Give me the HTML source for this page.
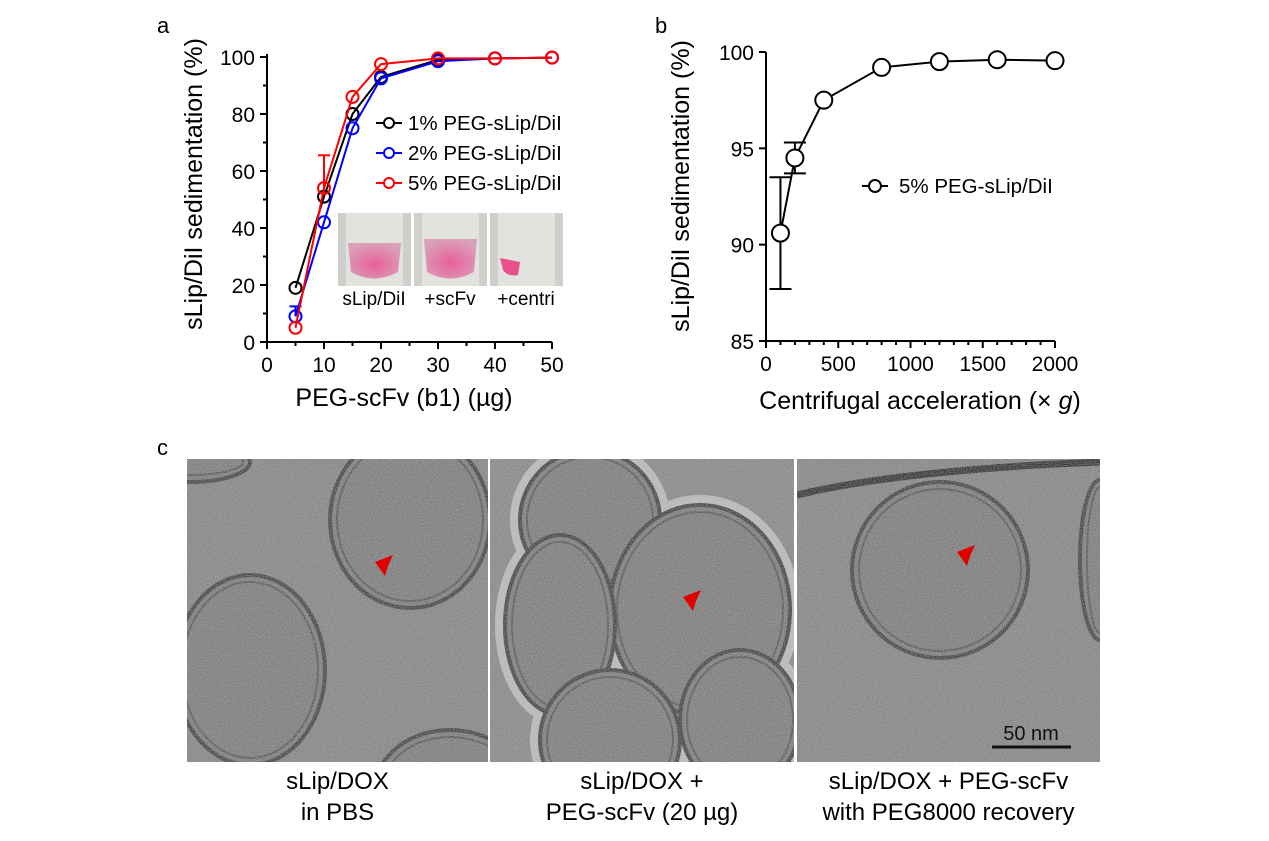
<!DOCTYPE html>
<html><head><meta charset="utf-8"><style>
body{margin:0;background:#fff;width:1269px;height:836px;overflow:hidden;font-family:"Liberation Sans",Arial,sans-serif}
svg text{font-family:"Liberation Sans",Arial,sans-serif}
</style></head><body>
<svg id="fig" width="1269" height="836" viewBox="0 0 1269 836">
<defs>
<filter id="noise" x="0" y="0" width="100%" height="100%">
<feTurbulence type="fractalNoise" baseFrequency="0.9" numOctaves="2" seed="3" result="t"/>
<feColorMatrix in="t" type="matrix" values="0 0 0 0 0.5  0 0 0 0 0.5  0 0 0 0 0.5  0 0 0 1.2 -0.35"/>
</filter>
<radialGradient id="pk" cx="50%" cy="60%" r="60%"><stop offset="0" stop-color="#e8609a"/><stop offset="1" stop-color="#d9a0b8"/></radialGradient>
</defs>
<g id="chartA"></g>
<g id="chartB"></g>
<g id="tem"></g>
</svg>
<script>
const NS='http://www.w3.org/2000/svg';
function mk(p,tag,at,txt){const e=document.createElementNS(NS,tag);for(const k in at)e.setAttribute(k,at[k]);if(txt!==undefined)e.textContent=txt;p.appendChild(e);return e;}

// ---- Chart a data ----
const aX=[5,10,15,20,30,40,50];
const a1=[19,51,80,93,99,99.5,99.8];
const a2=[9,42,75,92.5,98.5,99.5,99.8];
const a5=[5,54,86,97.5,99.5,99.5,99.8];
const a5err=[0,11.5,0,0,0,0,0];
const a2err=[3.5,0,0,0,0,0,0];
const aXTicks=[0,10,20,30,40,50];
const aYTicks=[0,20,40,60,80,100];
// ---- Chart b data ----
const bX=[100,200,400,800,1200,1600,2000];
const bY=[90.6,94.5,97.5,99.2,99.5,99.6,99.55];
const bErr=[2.9,0.8,0,0,0,0,0];
const bXTicks=[0,500,1000,1500,2000];
const bYTicks=[85,90,95,100];

const TF=21, TITLE=25;
// Chart a
(function(){
const g=document.getElementById('chartA');
const x0=267,x1=552,y0=342,y1=57;
const sx=v=>x0+(v-0)/(50-0)*(x1-x0), sy=v=>y0-(v-0)/100*(y0-y1);
const lbl=mk(g,'text',{x:157,y:33,'font-size':22});lbl.textContent='a';
mk(g,'line',{x1:x0,y1:y0,x2:x0,y2:y1-3,stroke:'#000','stroke-width':2});
mk(g,'line',{x1:x0,y1:y0,x2:x1,y2:y0,stroke:'#000','stroke-width':2});
for(let v=0;v<=100;v+=10){mk(g,'line',{x1:x0-(v%20?4:7),y1:sy(v),x2:x0,y2:sy(v),stroke:'#000','stroke-width':2});}
for(let v=0;v<=50;v+=5){mk(g,'line',{x1:sx(v),y1:y0,x2:sx(v),y2:y0+(v%10?4:7),stroke:'#000','stroke-width':2});}
aYTicks.forEach(v=>{const t=mk(g,'text',{x:x0-12,y:sy(v)+8,'font-size':TF,'text-anchor':'end'},v);});
aXTicks.forEach(v=>{const t=mk(g,'text',{x:sx(v),y:y0+30,'font-size':TF,'text-anchor':'middle'},v);});
const xt=mk(g,'text',{x:404,y:406,'font-size':TITLE,'text-anchor':'middle'},'PEG-scFv (b1) (µg)');
const yt=mk(g,'text',{x:0,y:0,'font-size':TITLE,'text-anchor':'middle',transform:'translate(202,184) rotate(-90)'},'sLip/DiI sedimentation (%)');
// inset photos
const px=[338,414,490],pl=['sLip/DiI','+scFv','+centri'];
px.forEach((x,i)=>{
 const pg=mk(g,'g',{});
 mk(pg,'rect',{x:x,y:213,width:73,height:73,fill:'#cfcfcc'});
 mk(pg,'rect',{x:x+8,y:213,width:57,height:73,fill:'#e2e2df'});
 if(i<2) mk(pg,'path',{d:`M${x+10} ${i?239:243} L${x+63} ${i?239:243} L${x+60} 272 Q${x+36} 285 ${x+13} 272 Z`,fill:'url(#pk)'});
 else mk(pg,'path',{d:`M${x+10} 258 L${x+30} 262 L${x+28} 275 Q${x+18} 277 ${x+13} 270 Z`,fill:'#e8508e'});
 const t=mk(g,'text',{x:x+36,y:305,'font-size':19,'text-anchor':'middle'},pl[i]);
});
const series=[[a1,'#000',null],[a2,'#0000ff',a2err],[a5,'#ff0000',a5err]];
series.forEach(([ys,c,er],si)=>{
 const sg=mk(g,'g',{});
 if(er) er.forEach((e,i)=>{if(e>0){mk(sg,'line',{x1:sx(aX[i]),y1:sy(ys[i]),x2:sx(aX[i]),y2:sy(ys[i]+e),stroke:c,'stroke-width':2});mk(sg,'line',{x1:sx(aX[i])-6,y1:sy(ys[i]+e),x2:sx(aX[i])+6,y2:sy(ys[i]+e),stroke:c,'stroke-width':2});}});
 mk(sg,'polyline',{points:aX.map((x,i)=>sx(x)+','+sy(ys[i])).join(' '),fill:'none',stroke:c,'stroke-width':2});
 aX.forEach((x,i)=>{const m=mk(sg,'circle',{cx:sx(x),cy:sy(ys[i]),r:6,fill:'none',stroke:c,'stroke-width':2});});
});
['1% PEG-sLip/DiI','2% PEG-sLip/DiI','5% PEG-sLip/DiI'].forEach((s,i)=>{
 const c=['#000','#0000ff','#ff0000'][i],y=123+i*30;
 const lg=mk(g,'g',{});
 mk(lg,'line',{x1:376,y1:y,x2:402,y2:y,stroke:c,'stroke-width':2});
 mk(lg,'circle',{cx:389,cy:y,r:5,fill:'#fff',stroke:c,'stroke-width':2});
 mk(lg,'text',{x:408,y:y+7,'font-size':20.5},s);
});
})();

// Chart b
(function(){
const g=document.getElementById('chartB');
const x0=766,x1=1055,y0=341,y1=52;
const sx=v=>x0+v/2000*(x1-x0), sy=v=>y0-(v-85)/15*(y0-y1);
const lbl=mk(g,'text',{x:655,y:33,'font-size':22},'b');
mk(g,'line',{x1:x0,y1:y0,x2:x0,y2:y1,stroke:'#000','stroke-width':2});
mk(g,'line',{x1:x0,y1:y0,x2:x1,y2:y0,stroke:'#000','stroke-width':2});
bYTicks.forEach(v=>{mk(g,'line',{x1:x0-7,y1:sy(v),x2:x0,y2:sy(v),stroke:'#000','stroke-width':2});const t=mk(g,'text',{x:x0-12,y:sy(v)+8,'font-size':TF,'text-anchor':'end'},v);});
for(let v=0;v<=2000;v+=100){mk(g,'line',{x1:sx(v),y1:y0,x2:sx(v),y2:y0+(v%500?4:7),stroke:'#000','stroke-width':2});}
bXTicks.forEach(v=>{const t=mk(g,'text',{x:sx(v),y:y0+30,'font-size':TF,'text-anchor':'middle'},v);});
const xt=mk(g,'text',{x:920,y:409,'font-size':TITLE,'text-anchor':'middle'});xt.innerHTML='Centrifugal acceleration (× <tspan font-style="italic">g</tspan>)';
const yt=mk(g,'text',{x:0,y:0,'font-size':TITLE,'text-anchor':'middle',transform:'translate(689,186) rotate(-90)'},'sLip/DiI sedimentation (%)');
bErr.forEach((e,i)=>{if(e>0){const X=sx(bX[i]);mk(g,'line',{x1:X,y1:sy(bY[i]-e),x2:X,y2:sy(bY[i]+e),stroke:'#000','stroke-width':2});[bY[i]-e,bY[i]+e].forEach(v=>mk(g,'line',{x1:X-11,y1:sy(v),x2:X+11,y2:sy(v),stroke:'#000','stroke-width':2}));}});
mk(g,'polyline',{points:bX.map((x,i)=>sx(x)+','+sy(bY[i])).join(' '),fill:'none',stroke:'#000','stroke-width':2});
bX.forEach((x,i)=>{const m=mk(g,'circle',{cx:sx(x),cy:sy(bY[i]),r:8.5,fill:'#fff',stroke:'#000','stroke-width':2});});
const lg=mk(g,'g',{});
mk(lg,'line',{x1:862,y1:186,x2:888,y2:186,stroke:'#000','stroke-width':2});
mk(lg,'circle',{cx:875,cy:186,r:6,fill:'#fff',stroke:'#000','stroke-width':2});
mk(lg,'text',{x:899,y:193,'font-size':20.5},'5% PEG-sLip/DiI');
})();

// TEM panels
(function(){
const g=document.getElementById('tem');
const lbl=mk(g,'text',{x:157,y:455,'font-size':22},'c');
const panels=[[187,301],[490,304],[797,303]];
const circles=[
 [[410,520,80,88],[250,670,75,95],[450,790,75,60],[190,462,60,20]],
 [[590,520,70,70],[700,610,90,105],[560,625,55,90],[610,740,70,70],[740,720,60,70]],
 [[940,570,88,88],[1100,560,20,80]]
];
const arrows=[[385,565],[693,600],[967,555]];
const caps=[['sLip/DOX','in PBS'],['sLip/DOX +','PEG-scFv (20 µg)'],['sLip/DOX + PEG-scFv','with PEG8000 recovery']];
panels.forEach(([x,w],i)=>{
 const pg=mk(g,'g',{});
 const cid='cp'+i;const cp=mk(pg,'clipPath',{id:cid});mk(cp,'rect',{x:x,y:459,width:w,height:303});
 const inner=mk(pg,'g',{'clip-path':`url(#${cid})`});
 mk(inner,'rect',{x:x,y:459,width:w,height:303,fill:i==1?'#888':'#858585'});
 if(i==1) circles[i].forEach(c=>mk(inner,'ellipse',{cx:c[0],cy:c[1],rx:c[2]+6,ry:c[3]+6,fill:'none',stroke:'#bdbdbd','stroke-width':8}));
 circles[i].forEach(c=>{mk(inner,'ellipse',{cx:c[0],cy:c[1],rx:c[2],ry:c[3],fill:'#7c7c7c',stroke:'#444','stroke-width':4});mk(inner,'ellipse',{cx:c[0],cy:c[1],rx:c[2]-7,ry:c[3]-7,fill:'none',stroke:'#5a5a5a','stroke-width':2});});
 if(i==2) mk(inner,'path',{d:'M797 495 Q900 470 1100 462',stroke:'#333','stroke-width':7,fill:'none'});
 mk(inner,'rect',{x:x,y:459,width:w,height:303,filter:'url(#noise)',opacity:0.9});
 const [ax,ay]=arrows[i];
 const ar=mk(pg,'path',{d:`M${ax-10} ${ay-3} L${ax+8} ${ay-10} L${ax+3} ${ay+1} L${ax} ${ay+11} Z`,fill:'#e00000'});
 caps[i].forEach((s,j)=>{const t=mk(g,'text',{x:x+w/2,y:789+j*31,'font-size':24,'text-anchor':'middle'},s);});
});
const sb=mk(g,'g',{});
mk(sb,'line',{x1:992,y1:747,x2:1071,y2:747,stroke:'#111','stroke-width':3});
mk(sb,'text',{x:1031,y:740,'font-size':20,'text-anchor':'middle',fill:'#111'},'50 nm');
})();
</script>
</body></html>
